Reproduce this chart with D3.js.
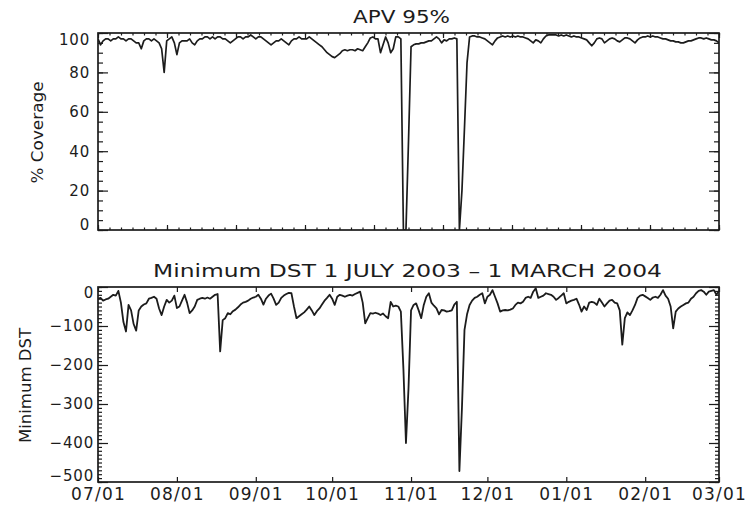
<!DOCTYPE html>
<html>
<head>
<meta charset="utf-8">
<script src="https://cdn.jsdelivr.net/npm/d3@7"></script>
<style>
  body { margin: 0; background: #fff; }
  svg { display: block; }
  text { font-family: "DejaVu Sans", sans-serif; fill: #1c1c1c; }
</style>
</head>
<body>
<svg id="chart" width="748" height="510"></svg>
<script>
// Daily series, one value per day starting 1 July 2003 (index 0) through 1 March 2004.
const startDay = "2003-07-01";
const endDay = "2004-03-01";

// APV 95% coverage, percent
const apvCoverage = [
  97, 94, 96, 97, 97, 96, 97, 97, 98, 97,
  97, 96, 97, 97, 96, 95, 95, 92, 96, 97,
  97, 96, 97, 96, 95, 92, 80, 96, 97, 98,
  95, 89, 95, 96, 96, 96, 97, 95, 94, 96,
  97, 97, 98, 98, 97, 98, 97, 98, 98, 97,
  97, 96, 95, 96, 97, 98, 98, 97, 98, 98,
  99, 98, 97, 98, 98, 97, 96, 95, 94, 95,
  96, 96, 97, 96, 95, 94, 96, 97, 97, 98,
  97, 97, 97, 98, 97, 96, 95, 94, 93, 91.5,
  90, 89, 88, 87.5, 88.5, 89.5, 91, 91.5, 91, 91.5,
  91.5, 91, 92, 91.5, 91, 93, 95, 97.5, 98, 97,
  97, 90, 94, 98, 95, 90, 92, 98, 98, 97,
  0, 0, 45, 93, 94, 94.5, 94.5, 95, 95, 95.5,
  96, 96, 97, 98, 97, 95, 96.5, 96, 97, 97,
  97.5, 97, 0, 20, 52, 85, 98, 98.5, 98.5, 98,
  98, 97.5, 97, 96, 95, 94, 96, 97.5, 98, 98.5,
  98, 98.5, 98, 98.5, 98, 98.5, 98, 98, 97.5, 97,
  96, 95, 96.5, 96, 95, 97, 98.5, 99, 99, 99,
  99, 98.5, 99, 98.5, 99, 98.5, 98, 98.5, 98, 98,
  97.5, 97, 96.5, 95, 93.5, 95, 97, 97.5, 97, 95,
  96, 97, 97.5, 97, 96, 95.5, 96.5, 97.5, 97.5, 97,
  96, 95, 96.5, 97.5, 98, 98, 98.5, 98, 98.5, 98,
  98, 97.5, 97, 97, 96.5, 96, 96, 95.5, 95.5, 95,
  95, 95.5, 96, 96, 96.5, 97, 97.5, 97.5, 97, 97.5,
  97, 96.5, 96.5, 96, 95
];

// Daily minimum Dst, nT
const minDst = [
  -30, -28, -35, -32, -30, -25, -20, -22, -10, -40,
  -90, -114, -46, -60, -95, -112, -60, -50, -45, -42,
  -30, -28, -25, -30, -55, -72, -50, -33, -40, -35,
  -22, -54, -50, -35, -20, -40, -67, -60, -50, -33,
  -30, -28, -30, -27, -30, -25, -20, -18, -165, -85,
  -80, -67, -70, -62, -58, -52, -45, -40, -38, -35,
  -30, -27, -25, -20, -30, -45, -30, -22, -17, -30,
  -46, -40, -28, -22, -18, -15, -16, -50, -80, -75,
  -70, -65, -58, -50, -60, -72, -62, -55, -45, -35,
  -28, -20, -30, -46, -25, -20, -22, -25, -22, -20,
  -22, -18, -15, -12, -40, -93, -80, -67, -68, -66,
  -68, -72, -68, -75, -80, -38, -50, -48, -50, -63,
  -210, -400, -260, -60, -46, -42, -60, -80, -46, -25,
  -16, -40, -48, -55, -70, -59, -60, -63, -62, -60,
  -45, -38, -472, -310, -110, -70, -46, -35, -28, -25,
  -20, -16, -42, -25, -20, -8, -25, -42, -63, -60,
  -59, -60, -58, -55, -46, -40, -42, -38, -28, -25,
  -28, -12, -3, -28, -25, -22, -16, -18, -20, -25,
  -33, -28, -22, -16, -42, -38, -35, -33, -30, -45,
  -63, -50, -59, -40, -38, -40, -46, -30, -40, -50,
  -42, -35, -33, -40, -42, -60, -148, -80, -65, -72,
  -60, -46, -28, -22, -20, -24, -28, -33, -27, -25,
  -28, -20, -8, -22, -30, -50, -106, -63, -55, -50,
  -46, -42, -40, -30, -25, -16, -10, -8, -12, -20,
  -12, -10, -8, -20, -10
];

// Axis values and labels
const coverageTicks = [0, 20, 40, 60, 80, 100];
const dstTicks = [-500, -400, -300, -200, -100, 0];
const topTitle = "APV 95%";
const bottomTitle = "Minimum DST 1 JULY 2003 \u2013 1 MARCH 2004";
const topYLabel = "% Coverage";
const bottomYLabel = "Minimum DST";

const ink = "#1c1c1c";
const svg = d3.select("#chart");

const t0 = new Date(startDay + "T00:00:00Z");
const t1 = new Date(endDay + "T00:00:00Z");
const dayDates = d => d3.utcDay.offset(t0, d);

const left = 98, right = 719;
const x = d3.scaleUtc().domain([t0, t1]).range([left, right]);

const top1 = 33, bot1 = 230;
const top2 = 287, bot2 = 482;
const yTop = d3.scaleLinear().domain([0, 100]).range([bot1, top1]);
const yBot = d3.scaleLinear().domain([-500, 0]).range([bot2, top2]);

const apvData = apvCoverage.map((v, i) => ({ date: dayDates(i), v }));
const dstData = minDst.map((v, i) => ({ date: dayDates(i), v }));

// clip paths
const defs = svg.append("defs");
defs.append("clipPath").attr("id", "clipTop").append("rect")
  .attr("x", left).attr("y", top1).attr("width", right - left).attr("height", bot1 - top1);
defs.append("clipPath").attr("id", "clipBot").append("rect")
  .attr("x", left).attr("y", top2).attr("width", right - left).attr("height", bot2 - top2);

function tickLines(g, axis) {
  g.call(axis);
  g.select(".domain").remove();
  g.selectAll(".tick line").attr("stroke", ink).attr("stroke-width", 1.2);
  g.selectAll(".tick text").remove();
}

function labels(g, axis, size, spacing) {
  g.call(axis);
  g.select(".domain").remove();
  g.selectAll(".tick line").remove();
  g.selectAll(".tick text")
    .attr("fill", ink)
    .style("font-size", size + "px")
    .style("letter-spacing", spacing + "px")
    .style("font-family", "'DejaVu Sans', sans-serif");
  return g;
}

// ---------- top panel: APV coverage ----------
const pTop = svg.append("g");

// x ticks: 9 equal divisions of the time span with 6 sub-steps each
const xDiv = d3.scaleLinear().domain([0, 9]).range([left, right]);
const divMajor = d3.range(0, 10);
const divMinor = d3.range(0, 9.01, 1 / 6);

tickLines(pTop.append("g").attr("transform", `translate(0,${bot1})`),
  d3.axisBottom(xDiv).tickValues(divMinor).tickSize(-2.5));
tickLines(pTop.append("g").attr("transform", `translate(0,${bot1})`),
  d3.axisBottom(xDiv).tickValues(divMajor).tickSize(-5));
tickLines(pTop.append("g").attr("transform", `translate(0,${top1})`),
  d3.axisTop(xDiv).tickValues(divMinor).tickSize(-2.5));
tickLines(pTop.append("g").attr("transform", `translate(0,${top1})`),
  d3.axisTop(xDiv).tickValues(divMajor).tickSize(-5));

const covMinor = d3.range(0, 101, 5);
tickLines(pTop.append("g").attr("transform", `translate(${left},0)`),
  d3.axisLeft(yTop).tickValues(covMinor).tickSize(-5));
tickLines(pTop.append("g").attr("transform", `translate(${left},0)`),
  d3.axisLeft(yTop).tickValues(coverageTicks).tickSize(-10));
tickLines(pTop.append("g").attr("transform", `translate(${right},0)`),
  d3.axisRight(yTop).tickValues(covMinor).tickSize(-5));
tickLines(pTop.append("g").attr("transform", `translate(${right},0)`),
  d3.axisRight(yTop).tickValues(coverageTicks).tickSize(-10));

labels(pTop.append("g").attr("transform", `translate(${left},0)`),
  d3.axisLeft(yTop).tickValues(coverageTicks).tickSize(0).tickPadding(8), 15, 0.8)
  .selectAll(".tick text")
  .attr("dy", d => d === 100 ? "0.79em" : d === 0 ? "-0.02em" : "0.32em");

pTop.append("path")
  .datum(apvData)
  .attr("clip-path", "url(#clipTop)")
  .attr("fill", "none")
  .attr("stroke", ink)
  .attr("stroke-width", 1.7)
  .attr("stroke-linejoin", "round")
  .attr("d", d3.line().x(d => x(d.date)).y(d => yTop(d.v)));

pTop.append("rect")
  .attr("x", left).attr("y", top1).attr("width", right - left).attr("height", bot1 - top1)
  .attr("fill", "none").attr("stroke", ink).attr("stroke-width", 1.7);

pTop.append("text")
  .attr("x", 353).attr("y", 23)
  .attr("textLength", 97)
  .attr("lengthAdjust", "spacingAndGlyphs")
  .style("font-size", "18px")
  .text(topTitle);

pTop.append("text")
  .attr("transform", `translate(43,${(top1 + bot1) / 2 + 1}) rotate(-90)`)
  .attr("text-anchor", "middle")
  .attr("textLength", 102)
  .attr("lengthAdjust", "spacingAndGlyphs")
  .style("font-size", "16px")
  .text(topYLabel);

// ---------- bottom panel: minimum Dst ----------
const pBot = svg.append("g");
const months = d3.utcMonth.range(t0, d3.utcDay.offset(t1, 1));

tickLines(pBot.append("g").attr("transform", `translate(0,${bot2})`),
  d3.axisBottom(x).tickValues(months).tickSize(-5));
tickLines(pBot.append("g").attr("transform", `translate(0,${top2})`),
  d3.axisTop(x).tickValues(months).tickSize(-5));

labels(pBot.append("g").attr("transform", `translate(0,${bot2})`),
  d3.axisBottom(x).tickValues(months).tickFormat(d3.utcFormat("%m/%d")).tickSize(0).tickPadding(6), 17, 1.2);

const dstMinor = d3.range(-500, 1, 10);
tickLines(pBot.append("g").attr("transform", `translate(${left},0)`),
  d3.axisLeft(yBot).tickValues(dstMinor).tickSize(-4));
tickLines(pBot.append("g").attr("transform", `translate(${left},0)`),
  d3.axisLeft(yBot).tickValues(dstTicks).tickSize(-10));
tickLines(pBot.append("g").attr("transform", `translate(${right},0)`),
  d3.axisRight(yBot).tickValues(dstMinor).tickSize(-4));
tickLines(pBot.append("g").attr("transform", `translate(${right},0)`),
  d3.axisRight(yBot).tickValues(dstTicks).tickSize(-10));

labels(pBot.append("g").attr("transform", `translate(${left},0)`),
  d3.axisLeft(yBot).tickValues(dstTicks).tickSize(0).tickPadding(4), 15, 0.8)
  .selectAll(".tick text")
  .attr("dy", d => d === 0 ? "0.72em" : d === -500 ? "-0.12em" : "0.32em");

pBot.append("path")
  .datum(dstData)
  .attr("clip-path", "url(#clipBot)")
  .attr("fill", "none")
  .attr("stroke", ink)
  .attr("stroke-width", 1.8)
  .attr("stroke-linejoin", "round")
  .attr("d", d3.line().x(d => x(d.date)).y(d => yBot(d.v)));

pBot.append("rect")
  .attr("x", left).attr("y", top2).attr("width", right - left).attr("height", bot2 - top2)
  .attr("fill", "none").attr("stroke", ink).attr("stroke-width", 1.7);

pBot.append("text")
  .attr("x", 153).attr("y", 277)
  .attr("textLength", 509)
  .attr("lengthAdjust", "spacingAndGlyphs")
  .style("font-size", "18px")
  .text(bottomTitle);

pBot.append("text")
  .attr("transform", `translate(31,${(top2 + bot2) / 2 + 1}) rotate(-90)`)
  .attr("text-anchor", "middle")
  .attr("textLength", 115)
  .attr("lengthAdjust", "spacingAndGlyphs")
  .style("font-size", "16px")
  .text(bottomYLabel);
</script>
</body>
</html>
